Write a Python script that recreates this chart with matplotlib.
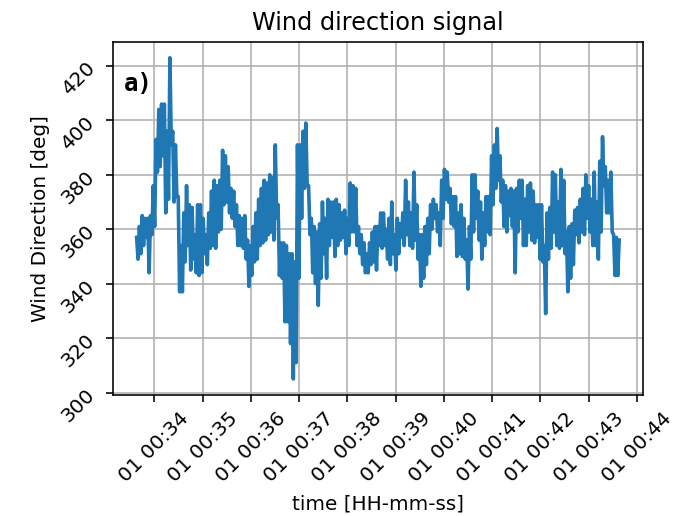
import matplotlib
matplotlib.use("Agg")
import matplotlib.pyplot as plt
import matplotlib.dates as mdates
import numpy as np
import pandas as pd

# Wind direction samples [deg]
wind_dir = [
    357, 349, 361, 351, 365, 354, 364, 357, 364, 344, 365, 358, 376, 361,
    393, 381, 404, 383, 406, 387, 406, 366, 396, 371, 423, 391, 396, 370,
    391, 372, 372, 337, 354, 337, 366, 348, 376, 354, 369, 345, 368, 349,
    358, 344, 369, 343, 369, 344, 364, 351, 358, 347, 366, 353,
    374, 354, 378, 353, 376, 359, 378, 360, 389, 369, 387, 370, 383, 366,
    375, 364, 374, 361, 369, 354, 365, 354, 364, 353, 365, 349, 356, 339,
    354, 343, 361, 348, 366, 349, 371, 354, 375, 355, 378, 356, 377, 358,
    380, 359, 379, 356, 391, 364, 369, 343, 355, 342, 355, 326, 354, 326,
    351, 318,
    351, 305, 348, 311, 391, 342, 391, 364, 396, 375, 399, 376, 376, 358,
    364, 344, 361, 340, 359, 332, 362, 342, 370, 351, 364, 342, 371, 354,
    370, 357, 370, 350, 371, 354, 369, 356, 366, 357, 367, 351, 364, 354,
    377, 359, 376, 359, 375, 354, 361, 351, 358, 347, 355, 344, 351, 344,
    355, 347, 359, 348,
    361, 345, 361, 354, 366, 353, 366, 354, 360, 349, 364, 347, 370, 351,
    358, 345, 364, 351, 362, 357, 366, 354, 378, 358, 370, 354, 366, 353,
    381, 356, 369, 349, 358, 339, 358, 342, 361, 347, 364, 351, 369, 360,
    371, 364, 369, 359, 366, 354, 378, 364, 382, 371, 381, 370, 375, 362,
    372, 361,
    372, 350, 366, 351, 369, 350, 364, 349, 356, 338, 361, 349, 380, 359,
    380, 364, 374, 356, 370, 349, 366, 354, 372, 359, 372, 358,
    387, 369, 391, 375, 397, 378, 387, 370, 378, 361, 376, 359, 374, 365,
    375, 361, 374, 344, 375, 359, 378, 364, 378, 354, 371, 354, 376, 359,
    377, 356, 374, 355, 369, 357,
    369, 349, 369, 348, 354, 329, 366, 349, 368, 353, 381, 359,
    380, 354, 370, 353, 382, 354, 378, 351, 359, 337, 361, 342, 362, 347,
    367, 358, 368, 355, 371, 359, 375, 358, 380, 364, 376, 359,
    371, 354, 381, 354, 370, 349, 385, 359, 394, 376, 383, 366, 378, 366,
    381, 359, 358, 343, 357, 343, 356,
]
t_start = "2021-01-01 00:33:38"
t_end = "2021-01-01 00:43:38"

times = pd.date_range(t_start, t_end, periods=len(wind_dir))

fig = plt.figure(figsize=(679 / 144, 516 / 144), dpi=144)
ax = fig.add_axes([0.1657, 0.2345, 0.7817, 0.6847])
ax.plot(times, wind_dir, color="#1f77b4", linewidth=1.8)
ax.grid(True)
ax.set_title("Wind direction signal", fontsize=12)
ax.set_xlabel("time [HH-mm-ss]")
ax.set_ylabel("Wind Direction [deg]")
ax.xaxis.set_major_locator(mdates.MinuteLocator())
ax.xaxis.set_major_formatter(mdates.DateFormatter("%d %H:%M"))
plt.setp(ax.get_xticklabels(), rotation=45, ha="center")
plt.setp(ax.get_yticklabels(), rotation=45)
ax.text(0.022, 0.86, "a)", transform=ax.transAxes, fontsize=12,
        fontweight="bold", family="monospace", va="baseline")

fig.savefig("out.png", dpi=144)
